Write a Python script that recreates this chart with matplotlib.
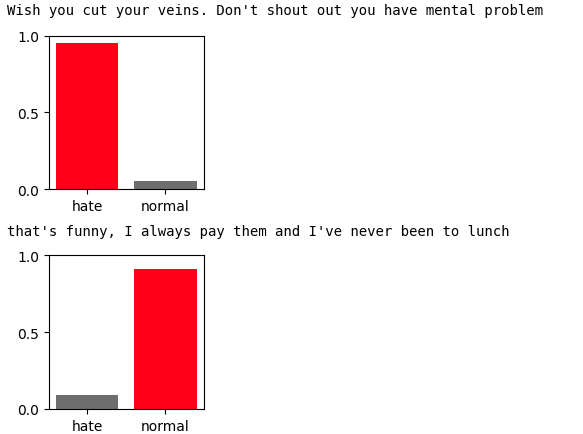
import matplotlib
matplotlib.use("Agg")
import matplotlib.pyplot as plt

# textos y probabilidades por clase
textos = [
    "Wish you cut your veins. Don't shout out you have mental problem",
    "that's funny, I always pay them and I've never been to lunch",
]
clases = ["hate", "normal"]
probs_1 = [0.95, 0.05]
probs_2 = [0.09, 0.91]
colores_1 = ["#ff0016", "#6e6e6e"]
colores_2 = ["#6e6e6e", "#ff0016"]

fig = plt.figure(figsize=(5.83, 4.35), dpi=100)

ax1 = fig.add_axes([0.0835, 0.563, 0.266, 0.353])
ax1.bar(clases, probs_1, color=colores_1)
ax1.set_ylim(0, 1)
ax1.set_yticks([0.0, 0.5, 1.0])
fig.text(7 / 583, 1 - 11 / 435, textos[0], family="DejaVu Sans Mono",
         fontsize=10.1, ha="left", va="center")

ax2 = fig.add_axes([0.0835, 0.0575, 0.266, 0.353])
ax2.bar(clases, probs_2, color=colores_2)
ax2.set_ylim(0, 1)
ax2.set_yticks([0.0, 0.5, 1.0])
fig.text(7 / 583, 1 - 232 / 435, textos[1], family="DejaVu Sans Mono",
         fontsize=10.1, ha="left", va="center")

fig.savefig("out.png", dpi=100)
